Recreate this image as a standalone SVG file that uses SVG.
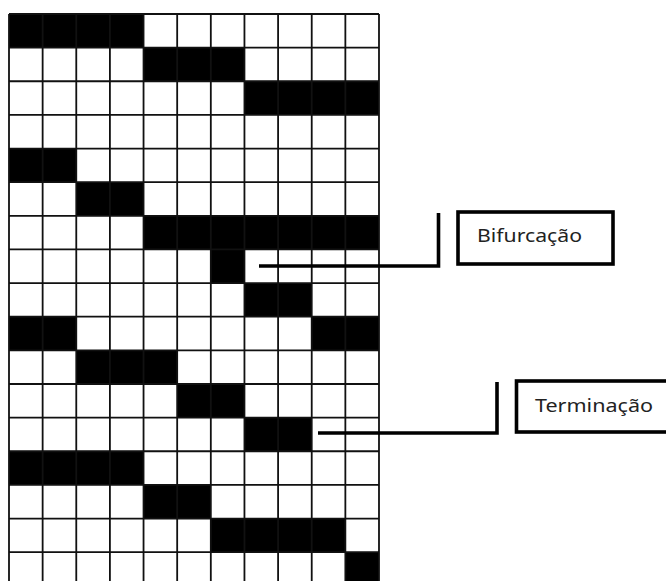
<svg xmlns="http://www.w3.org/2000/svg" width="666" height="581" viewBox="0 0 666 581">
<style>
.cell{fill:#000}
.gl{stroke:#111;stroke-width:1.8;fill:none;vector-effect:non-scaling-stroke}
.lead{stroke:#000;stroke-width:3.6;fill:none}
.box{fill:#fff;stroke:#000;stroke-width:3.6}
.lbl{font-family:"Noto Sans","Open Sans","DejaVu Sans",sans-serif;font-size:18.5px;fill:#222}
</style>
<rect width="666" height="581" fill="#fff"/>
<g id="grid" transform="translate(9,14) scale(33.636)">
<rect class="cell" x="0" y="0" width="4" height="1"/>
<rect class="cell" x="4" y="1" width="3" height="1"/>
<rect class="cell" x="7" y="2" width="4" height="1"/>
<rect class="cell" x="0" y="4" width="2" height="1"/>
<rect class="cell" x="2" y="5" width="2" height="1"/>
<rect class="cell" x="4" y="6" width="7" height="1"/>
<rect class="cell" x="6" y="7" width="1" height="1"/>
<rect class="cell" x="7" y="8" width="2" height="1"/>
<rect class="cell" x="0" y="9" width="2" height="1"/>
<rect class="cell" x="9" y="9" width="2" height="1"/>
<rect class="cell" x="2" y="10" width="3" height="1"/>
<rect class="cell" x="5" y="11" width="2" height="1"/>
<rect class="cell" x="7" y="12" width="2" height="1"/>
<rect class="cell" x="0" y="13" width="4" height="1"/>
<rect class="cell" x="4" y="14" width="2" height="1"/>
<rect class="cell" x="6" y="15" width="4" height="1"/>
<rect class="cell" x="10" y="16" width="1" height="1"/>
<path class="gl" d="M0 0V17M1 0V17M2 0V17M3 0V17M4 0V17M5 0V17M6 0V17M7 0V17M8 0V17M9 0V17M10 0V17M11 0V17
M0 0H11M0 1H11M0 2H11M0 3H11M0 4H11M0 5H11M0 6H11M0 7H11M0 8H11M0 9H11M0 10H11M0 11H11M0 12H11M0 13H11M0 14H11M0 15H11M0 16H11M0 17H11"/>
</g>
<g id="connectors">
<path class="lead" d="M259 266H438.5V213"/>
<path class="lead" d="M318 433H497V382"/>
</g>
<g id="label-bifurcacao">
<rect class="box" x="458" y="212" width="155" height="52"/>
<text class="lbl" x="477" y="242" textLength="105" lengthAdjust="spacingAndGlyphs">Bifurcação</text>
</g>
<g id="label-terminacao">
<rect class="box" x="516.5" y="381" width="160" height="51"/>
<text class="lbl" x="535" y="411.5" textLength="118" lengthAdjust="spacingAndGlyphs">Terminação</text>
</g>
</svg>
